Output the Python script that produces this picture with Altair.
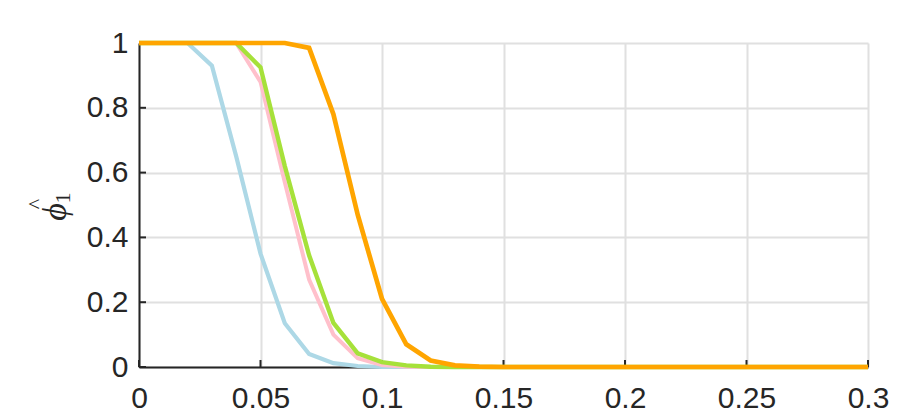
import altair as alt
import pandas as pd

x_vals = [0.00, 0.01, 0.02, 0.03, 0.04, 0.05, 0.06, 0.07, 0.08, 0.09,
          0.10, 0.11, 0.12, 0.13, 0.14, 0.15, 0.16, 0.17, 0.18, 0.19,
          0.20, 0.21, 0.22, 0.23, 0.24, 0.25, 0.26, 0.27, 0.28, 0.29, 0.30]

blue = [1, 1, 1, 0.93, 0.65, 0.35, 0.135, 0.04, 0.012, 0.003,
        0, 0, 0, 0, 0, 0, 0, 0, 0, 0, 0, 0, 0, 0, 0, 0, 0, 0, 0, 0, 0]
pink = [1, 1, 1, 1, 1, 0.88, 0.57, 0.27, 0.10, 0.027,
        0.006, 0.001, 0, 0, 0, 0, 0, 0, 0, 0, 0, 0, 0, 0, 0, 0, 0, 0, 0, 0, 0]
green = [1, 1, 1, 1, 1, 0.925, 0.62, 0.345, 0.136, 0.042,
         0.015, 0.005, 0.001, 0, 0, 0, 0, 0, 0, 0, 0, 0, 0, 0, 0, 0, 0, 0, 0, 0, 0]
orange = [1, 1, 1, 1, 1, 1, 1, 0.985, 0.78, 0.47,
          0.21, 0.07, 0.02, 0.005, 0.001, 0, 0, 0, 0, 0, 0, 0, 0, 0, 0, 0, 0, 0, 0, 0, 0]

x_ticks = [0, 0.05, 0.1, 0.15, 0.2, 0.25, 0.3]
y_ticks = [0, 0.2, 0.4, 0.6, 0.8, 1]

title_main = "ϕ"
title_sub = "1"
title_hat = "^"

series = [
    ("blue", blue, "#add8e6", 4.2),
    ("pink", pink, "#ffc0cb", 4.0),
    ("green", green, "#a6e13a", 4.4),
    ("orange", orange, "#ffa500", 4.7),
]

W, H = 729, 324

xscale = alt.Scale(domain=[0, 0.3], nice=False, zero=False)
yscale = alt.Scale(domain=[0, 1], nice=False)

xaxis = alt.Axis(values=x_ticks, format="~g", title=None, labelPadding=16,
                 labelFlush=False)
yaxis = alt.Axis(values=y_ticks, format="~g", title=None, labelPadding=11)

layers = []
for name, vals, col, w in series:
    df = pd.DataFrame({"x": x_vals, "y": vals})
    layers.append(
        alt.Chart(df).mark_line(color=col, strokeWidth=w, strokeJoin="miter")
        .encode(x=alt.X("x:Q", scale=xscale, axis=xaxis),
                y=alt.Y("y:Q", scale=yscale, axis=yaxis))
    )

xt = pd.DataFrame({"t": x_ticks})
yt = pd.DataFrame({"t": y_ticks})
xtick_layer = alt.Chart(xt).mark_rule(color="#262626", strokeWidth=2).encode(
    x=alt.X("t:Q", scale=xscale), y=alt.value(H), y2=alt.value(H - 7))
ytick_layer = alt.Chart(yt).mark_rule(color="#262626", strokeWidth=2).encode(
    y=alt.Y("t:Q", scale=yscale), x=alt.value(0), x2=alt.value(7))

tdf = pd.DataFrame({"a": [0]})
t_main = alt.Chart(tdf).mark_text(
    text=title_main, angle=270, align="center", baseline="alphabetic",
    font="Liberation Serif", fontStyle="italic", fontSize=34, color="#262626"
).encode(x=alt.value(-73), y=alt.value(169))
t_sub = alt.Chart(tdf).mark_text(
    text=title_sub, angle=270, align="center", baseline="alphabetic",
    font="Liberation Serif", fontSize=22, color="#262626"
).encode(x=alt.value(-69), y=alt.value(155))
t_hat = alt.Chart(tdf).mark_text(
    text=title_hat, angle=270, align="center", baseline="middle",
    font="Liberation Serif", fontSize=22, color="#262626"
).encode(x=alt.value(-103), y=alt.value(161))

chart = alt.layer(xtick_layer, ytick_layer, *layers, t_main, t_sub, t_hat).properties(
    width=W, height=H,
    padding={"left": 131, "top": 35, "right": 21, "bottom": 46},
    autosize=alt.AutoSizeParams(type="none"),
).configure_view(stroke=None).configure_axis(
    domainColor="#262626", domainWidth=2, gridColor="#e0e0e0", gridWidth=2,
    ticks=False, labelFont="Liberation Sans", labelFontSize=30,
    labelColor="#262626",
)

chart.save("out.html", embed_options={"renderer": "svg", "actions": False})
